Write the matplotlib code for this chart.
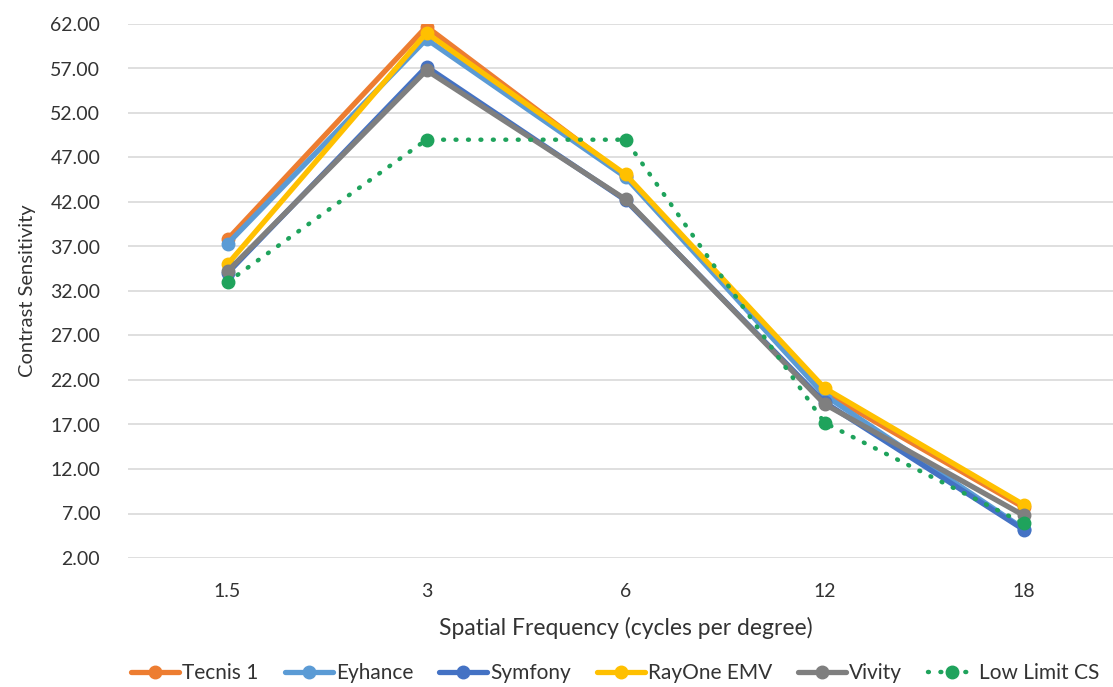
import matplotlib.pyplot as plt

plt.rcParams['font.family'] = ['Lato', 'DejaVu Sans']

freqs = ['1.5', '3', '6', '12', '18']
tecnis = [37.8, 61.7, 44.9, 20.6, 7.7]
eyhance = [37.3, 60.3, 44.8, 20.3, 5.3]
symfony = [34.0, 57.2, 42.2, 19.5, 5.2]
rayone = [35.0, 61.0, 45.1, 21.1, 8.0]
vivity = [34.2, 56.8, 42.3, 19.3, 6.8]
low_limit = [33.0, 49.0, 49.0, 17.2, 5.9]

series = [
    ('Tecnis 1', tecnis, '#ED7D31'),
    ('Eyhance', eyhance, '#5B9BD5'),
    ('Symfony', symfony, '#4472C4'),
    ('RayOne EMV', rayone, '#FFC000'),
    ('Vivity', vivity, '#7F7F7F'),
]

fig = plt.figure(figsize=(11.13, 6.87), dpi=100)
ax = fig.add_axes([128 / 1113, 129 / 687, 995 / 1113, 534 / 687])

x = range(len(freqs))
for name, vals, col in series:
    ax.plot(x, vals, color=col, lw=3.8, marker='o', ms=9, label=name,
            solid_joinstyle='round', solid_capstyle='round')
ax.plot(x, low_limit, color='#1FA35C', lw=3.2, linestyle=(0, (0.2, 2.6)),
        dash_capstyle='round', marker='o', ms=9, label='Low Limit CS')

ax.set_xlim(-0.5, 4.5)
ax.set_ylim(2, 62)
ax.set_yticks([2 + 5 * i for i in range(13)])
ax.set_yticklabels(['%.2f' % (2 + 5 * i) for i in range(13)])
ax.set_xticks(list(x))
ax.set_xticklabels(freqs)
ax.grid(axis='y', color='#D9D9D9', lw=1.2)
ax.set_axisbelow(True)
for s in ax.spines.values():
    s.set_visible(False)
ax.tick_params(length=0, labelsize=14, colors='#333333', pad=18)
ax.tick_params(axis='y', pad=20)

ax.set_ylabel('Contrast Sensitivity', fontsize=14.5, color='#333333', labelpad=10)
ax.set_xlabel('Spatial Frequency (cycles per degree)', fontsize=16.5, color='#333333', labelpad=12)

fig.legend(loc='center', bbox_to_anchor=(0.553, 0.02), ncol=6, frameon=False,
           fontsize=15, handlelength=2.3, columnspacing=1.25, handletextpad=0.15,
           labelcolor='#333333')

fig.savefig('out.png', dpi=100)
